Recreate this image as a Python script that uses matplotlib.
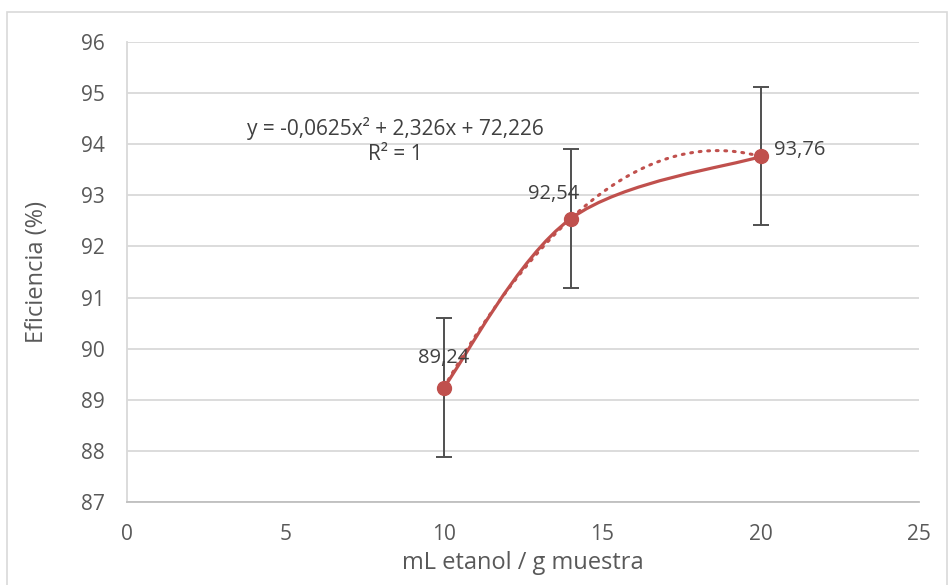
import numpy as np
import matplotlib.pyplot as plt
from matplotlib.patches import Rectangle
from matplotlib.path import Path
from matplotlib.patches import PathPatch

plt.rcParams['font.family'] = ['Open Sans', 'DejaVu Sans']

# data
x_vals = [10, 14, 20]
y_vals = [89.24, 92.54, 93.76]
y_err = [1.36, 1.36, 1.35]
point_labels = ['89,24', '92,54', '93,76']
x_ticks = [0, 5, 10, 15, 20, 25]
y_ticks = [87, 88, 89, 90, 91, 92, 93, 94, 95, 96]

red = '#C0504D'
grey_txt = '#595959'
grid_col = '#D9D9D9'

fig = plt.figure(figsize=(9.5, 5.85), dpi=100)
ax = fig.add_axes([0.1337, 0.1419, 0.8337, 0.7863])

# chart border
fig.patches.append(Rectangle((7 / 950, -0.01), 940 / 950, 1 - 12 / 585 + 0.01,
                             transform=fig.transFigure, fill=False,
                             edgecolor='#D9D9D9', lw=1.2))

# smoothed line (catmull-rom bezier like excel)
pts = np.column_stack([x_vals, y_vals])
verts = [pts[0]]
codes = [Path.MOVETO]
n = len(pts)
for i in range(n - 1):
    p0 = pts[i - 1] if i > 0 else pts[i]
    p1 = pts[i]
    p2 = pts[i + 1]
    p3 = pts[i + 2] if i + 2 < n else pts[i + 1]
    c1 = p1 + (p2 - p0) / 6
    c2 = p2 - (p3 - p1) / 6
    verts += [c1, c2, p2]
    codes += [Path.CURVE4] * 3
ax.add_patch(PathPatch(Path(verts, codes), fill=False, edgecolor=red,
                       lw=2.3, zorder=4, capstyle='round'))

# polynomial trendline
coef = np.polyfit(x_vals, y_vals, 2)
xt = np.linspace(min(x_vals), max(x_vals), 200)
ax.plot(xt, np.polyval(coef, xt), color=red, lw=2.2, linestyle=(0, (0.6, 2.2)),
        dash_capstyle='round', zorder=3)

ax.errorbar(x_vals, y_vals, yerr=y_err, fmt='none', ecolor='#505050',
            elinewidth=1.4, capsize=6, capthick=1.4, zorder=2)
ax.plot(x_vals, y_vals, 'o', color=red, markersize=10, zorder=5)

offsets = [(0, 21), (-12, 18), (28, 5)]
for xv, yv, lab, off in zip(x_vals, y_vals, point_labels, offsets):
    ax.annotate(lab, (xv, yv), xytext=off, textcoords='offset points',
                ha='center', va='center', fontsize=14.5, color='#404040', zorder=6)

ax.text(395 / 950, 1 - 128 / 585, 'y = -0,0625x² + 2,326x + 72,226',
        transform=fig.transFigure, ha='center', va='center', fontsize=15, color='#404040')
ax.text(395 / 950, 1 - 155 / 585, 'R² = 1',
        transform=fig.transFigure, ha='center', va='center', fontsize=15, color='#404040')

ax.set_xlim(0, 25)
ax.set_ylim(87, 96)
ax.set_xticks(x_ticks)
ax.set_yticks(y_ticks)
ax.tick_params(length=0, labelsize=15, colors=grey_txt)
ax.tick_params(axis='y', pad=16)
ax.tick_params(axis='x', pad=16)
ax.grid(axis='y', color=grid_col, lw=1.3)
ax.set_axisbelow(True)
for s in ['top', 'right']:
    ax.spines[s].set_visible(False)
ax.spines['left'].set_color(grid_col)
ax.spines['bottom'].set_color('#BFBFBF')
ax.spines['left'].set_linewidth(1.3)
ax.spines['bottom'].set_linewidth(1.3)

ax.set_xlabel('mL etanol / g muestra', fontsize=17, color=grey_txt, labelpad=4)
ax.set_ylabel('Eficiencia (%)', fontsize=17, color=grey_txt, labelpad=23)

fig.savefig('out.png', dpi=100)
